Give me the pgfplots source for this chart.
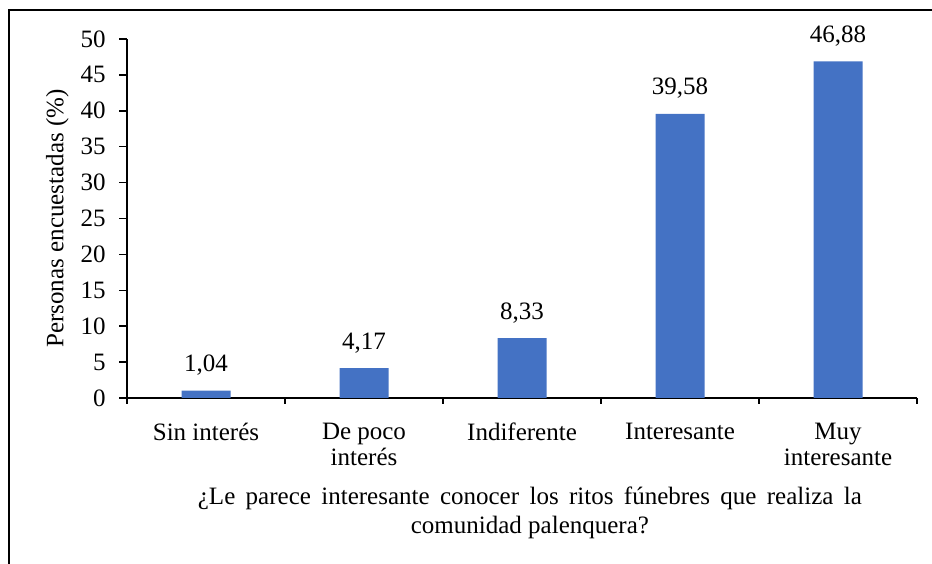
\documentclass[border=0pt]{standalone}
\usepackage{fontspec}
\setmainfont{Liberation Serif}
\usepackage{pgfplots}
\pgfplotsset{compat=1.18}
\definecolor{barblue}{HTML}{4472C4}

\begin{document}
\fontsize{12.5}{13}\selectfont
\begin{tikzpicture}
\begin{axis}[
    scale only axis,
    width=395pt, height=179.5pt,
    xmin=-0.5, xmax=4.5,
    ymin=0, ymax=50,
    axis x line*=bottom,
    axis y line*=left,
    axis line style={line width=0.75pt, black},
    clip=false,
    ybar,
    bar width=24.5pt,
    /pgf/number format/assume math mode=true,
    ytick={0,5,...,50},
    xtick={0,1,2,3,4},
    xticklabels={Sin interés, De poco\\interés, Indiferente, Interesante, Muy\\interesante},
    minor xtick={-0.5,0.5,1.5,2.5,3.5,4.5},
    major x tick style={draw=none},
    tick align=outside,
    major tick length=4pt,
    minor tick length=3pt,
    tick style={line width=0.75pt, black},
    yticklabel style={anchor=east, inner sep=0pt, xshift=-6.5pt},
    xticklabel style={align=center, anchor=north, inner sep=0pt, yshift=-8.5pt},
    xlabel={\makebox[332pt][s]{¿Le parece interesante conocer los ritos fúnebres que realiza la}\\comunidad palenquera?},
    xlabel style={at={(rel axis cs:0.51,-0.2479)}, anchor=north, align=center,
        inner sep=0pt, font=\fontsize{12.5}{14.5}\selectfont},
    ylabel={Personas encuestadas (\%)},
    ylabel style={at={(rel axis cs:-0.088,0.5)}, anchor=center, inner sep=0pt},
    nodes near coords={\pgfmathprintnumber[fixed,fixed zerofill,precision=2,use comma]{\pgfplotspointmeta}},
    every node near coord/.style={anchor=south, inner sep=0pt, yshift=7.3pt, black},
]
\addplot[fill=barblue, draw=none] coordinates {
    (0,1.04) (1,4.17) (2,8.33) (3,39.58) (4,46.88)
};
% picture edges and outer frame, from the reference's pixel grid
\coordinate (bl) at (rel axis cs:-0.16076,-0.46240);
\coordinate (tr) at (rel axis cs:1.01899,1.10864);
\coordinate (fl) at (rel axis cs:-0.14937,1.08078);
\end{axis}
\draw[line width=1pt] (fl |- bl) -- (fl) -- (fl -| tr);
\pgfresetboundingbox
\useasboundingbox (bl) rectangle (tr);
\end{tikzpicture}
\end{document}
